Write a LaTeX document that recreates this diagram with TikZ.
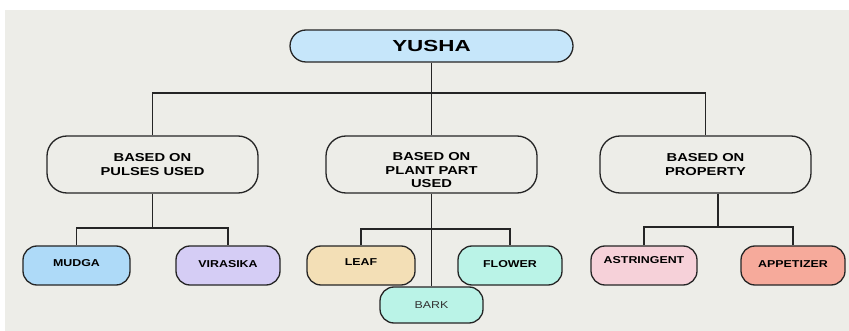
\documentclass[tikz,border=0pt]{standalone}
\usepackage{fontspec}
\setmainfont{Liberation Sans}
\newfontfamily\wideA[FakeStretch=1.4]{Liberation Sans}
\newfontfamily\wideB[FakeStretch=1.28]{Liberation Sans}
\newfontfamily\wideC[FakeStretch=1.24]{Liberation Sans}
\definecolor{bgpanel}{HTML}{EDEDE8}
\definecolor{cyusha}{HTML}{C6E6FA}
\definecolor{cmudga}{HTML}{AEDAF8}
\definecolor{cvira}{HTML}{D5CDF5}
\definecolor{cleaf}{HTML}{F3DFB6}
\definecolor{cmint}{HTML}{BAF3E7}
\definecolor{castr}{HTML}{F6D1D9}
\definecolor{cappe}{HTML}{F6AA9B}
\definecolor{edge}{HTML}{252525}
\definecolor{barktext}{HTML}{333333}
\newcommand{\shiftxt}[2]{\raisebox{#1}[0pt][0pt]{#2}}
\tikzset{
  box/.style={draw=edge, line width=1.3pt, align=center, inner sep=0pt},
  topbox/.style={box, fill=cyusha, minimum width=283pt, minimum height=32pt, rounded corners=16pt, font=\wideA\fontsize{16}{18}\selectfont\bfseries},
  midbox/.style={box, fill=bgpanel, minimum width=211pt, minimum height=57pt, rounded corners=20pt, font=\wideB\fontsize{11.5}{13.3}\selectfont\bfseries},
  leafbox/.style={box, minimum width=105pt, minimum height=39pt, rounded corners=14pt, font=\wideC\fontsize{10}{12}\selectfont\bfseries},
  conn/.style={draw=edge, line width=1.2pt}
}
\begin{document}
\begin{tikzpicture}[x=1pt,y=-1pt]
\useasboundingbox (0,0) rectangle (849,331);
\fill[white] (0,0) rectangle (849,331);
\fill[bgpanel] (5,10) rectangle (849,331);

\node[topbox] (yusha) at (431.5,46) {YUSHA};
\node[midbox] (pulses) at (152.5,164.5) {BASED ON\\PULSES USED};
\node[midbox] (plant) at (431.5,164.5) {\shiftxt{-10pt}{\begin{tabular}{@{}c@{}}BASED ON\\PLANT PART\\USED\end{tabular}}};
\node[midbox] (prop) at (705.5,164.5) {BASED ON\\PROPERTY};

\node[leafbox, fill=cmudga, minimum width=107pt] (mudga) at (76.5,265.5) {\shiftxt{-1.1pt}{MUDGA}};
\node[leafbox, fill=cvira, minimum width=104pt] (vira) at (228,265.5) {\shiftxt{-2.1pt}{VIRASIKA}};
\node[leafbox, fill=cleaf, minimum width=108pt] (leaf) at (361,265.5) {\shiftxt{-0.1pt}{LEAF}};
\node[leafbox, fill=cmint, minimum width=103pt, minimum height=36pt, font=\wideC\fontsize{10}{12}\selectfont\color{barktext}] (bark) at (431.5,305) {BARK};
\node[leafbox, fill=cmint, minimum width=104pt] (flower) at (510,265.5) {\shiftxt{-2.1pt}{FLOWER}};
\node[leafbox, fill=castr, minimum width=106pt] (astr) at (644,265.5) {\shiftxt{1.9pt}{ASTRINGENT}};
\node[leafbox, fill=cappe, minimum width=104pt] (appe) at (793,265.5) {\shiftxt{-2.1pt}{APPETIZER}};

\coordinate (h1) at (431.5,93);
\coordinate (h2) at (152.5,228);
\coordinate (h3) at (431.5,229);
\coordinate (h4) at (718,227);

\draw[conn] (yusha.south) -- (h1);
\draw[conn] (pulses.north) |- (h1) -| (prop.north);
\draw[conn] (h1) -- (plant.north);

\draw[conn] (pulses.south) -- (h2);
\draw[conn] (mudga.north) |- (h2) -| (vira.north);

\draw[conn] (plant.south) -- (bark.north);
\draw[conn] (leaf.north) |- (h3) -| (flower.north);

\draw[conn] (prop.south -| h4) -- (h4);
\draw[conn] (astr.north) |- (h4) -| (appe.north);
\end{tikzpicture}
\end{document}
